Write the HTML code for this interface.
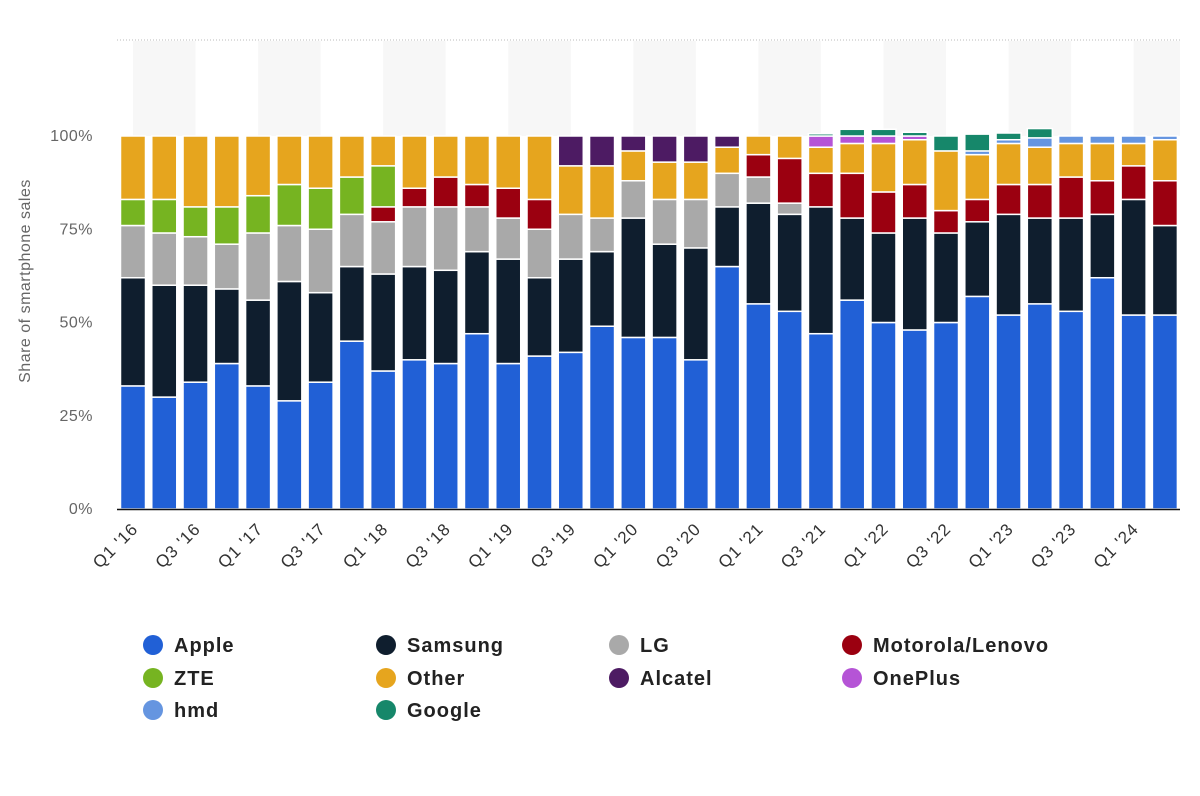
<!DOCTYPE html>
<html><head><meta charset="utf-8"><style>
body{margin:0;background:#fff;width:1200px;height:791px;overflow:hidden;font-family:"Liberation Sans",sans-serif}
</style></head><body>
<svg id="chart" width="1200" height="791" xmlns="http://www.w3.org/2000/svg">
<g id="stripes"></g>
<line x1="117" y1="40" x2="1180" y2="40" stroke="#bbb" stroke-dasharray="1,2"/>
<g id="bars"></g>
<line x1="117" y1="509.5" x2="1180" y2="509.5" stroke="#111" stroke-width="1.5"/>
<g id="yticks" font-size="16" letter-spacing="0.5" fill="#666" text-anchor="end"></g>
<text transform="translate(30,281) rotate(-90)" text-anchor="middle" font-size="16" letter-spacing="0.5" fill="#666">Share of smartphone sales</text>
<g id="xticks" font-size="17" letter-spacing="1" fill="#333" text-anchor="end"></g>
<g id="legend" font-size="20" letter-spacing="1" font-weight="bold" fill="#222"></g>
</svg>
<script>
const quarters=["Q1 '16","Q2 '16","Q3 '16","Q4 '16","Q1 '17","Q2 '17","Q3 '17","Q4 '17","Q1 '18","Q2 '18","Q3 '18","Q4 '18","Q1 '19","Q2 '19","Q3 '19","Q4 '19","Q1 '20","Q2 '20","Q3 '20","Q4 '20","Q1 '21","Q2 '21","Q3 '21","Q4 '21","Q1 '22","Q2 '22","Q3 '22","Q4 '22","Q1 '23","Q2 '23","Q3 '23","Q4 '23","Q1 '24","Q2 '24"];
const seriesNames=["Apple","Samsung","LG","Motorola/Lenovo","ZTE","Other","Alcatel","OnePlus","hmd","Google"];
const seriesColors=["#2160d6","#0f1e2e","#a9a9a9","#9b0010","#76b421","#e6a51e","#4d1b63","#b554d6","#6595e0","#16876a"];
const apple=[33,30,34,39,33,29,34,45,37,40,39,47,39,41,42,49,46,46,40,65,55,53,47,56,50,48,50,57,52,55,53,62,52,52];
const samsung=[29,30,26,20,23,32,24,20,26,25,25,22,28,21,25,20,32,25,30,16,27,26,34,22,24,30,24,20,27,23,25,17,31,24];
const lg=[14,14,13,12,18,15,17,14,14,16,17,12,11,13,12,9,10,12,13,9,7,3,0,0,0,0,0,0,0,0,0,0,0,0];
const motorola=[0,0,0,0,0,0,0,0,4,5,8,6,8,8,0,0,0,0,0,0,6,12,9,12,11,9,6,6,8,9,11,9,9,12];
const zte=[7,9,8,10,10,11,11,10,11,0,0,0,0,0,0,0,0,0,0,0,0,0,0,0,0,0,0,0,0,0,0,0,0,0];
const other=[17,17,19,19,16,13,14,11,8,14,11,13,14,17,13,14,8,10,10,7,5,6,7,8,13,12,16,12,11,10,9,10,6,11];
const alcatel=[0,0,0,0,0,0,0,0,0,0,0,0,0,0,8,8,4,7,7,3,0,0,0,0,0,0,0,0,0,0,0,0,0,0];
const oneplus=[0,0,0,0,0,0,0,0,0,0,0,0,0,0,0,0,0,0,0,0,0,0,3,2,2,1,0,0,0,0,0,0,0,0];
const hmd=[0,0,0,0,0,0,0,0,0,0,0,0,0,0,0,0,0,0,0,0,0,0,0,0,0,0,0,1,1,2.5,2,2,2,1];
const google=[0,0,0,0,0,0,0,0,0,0,0,0,0,0,0,0,0,0,0,0,0,0,0.6,1.8,1.8,1,4,4.5,1.8,2.5,0,0,0,0];
const yTicks=[0,25,50,75,100];
const series=[apple,samsung,lg,motorola,zte,other,alcatel,oneplus,hmd,google];
const NS="http://www.w3.org/2000/svg";
const x0=117,step=31.27,bw=25;
function xCenter(i){return x0+16+i*step;}
function yScale(v){return 509-v*3.73;}
function mk(tag,attrs,parent){const e=document.createElementNS(NS,tag);for(const k in attrs)e.setAttribute(k,attrs[k]);parent.appendChild(e);return e;}
const stripes=document.getElementById('stripes');
for(let i=0;i<quarters.length;i+=4){const r=mk('rect',{x:xCenter(i),y:41,width:Math.min(step*2,1180-xCenter(i)),height:95,fill:'#f7f7f7'},stripes);

}
const bars=document.getElementById('bars');
quarters.forEach((q,i)=>{let cum=0;series.forEach((s,k)=>{const v=s[i];if(v>0){const y1=yScale(cum+v),y2=yScale(cum);
const r=mk('rect',{x:xCenter(i)-bw/2,y:y1,width:bw,height:y2-y1,fill:seriesColors[k],stroke:'#fff','stroke-width':1.5},bars);

}cum+=v;});});
const yt=document.getElementById('yticks');
yTicks.forEach(t=>{const e=mk('text',{x:93,y:yScale(t)+5},yt);e.textContent=t+'%';

});
const xt=document.getElementById('xticks');
quarters.forEach((q,i)=>{if(i%2)return;const cx=xCenter(i)+6,cy=530;
const e=mk('text',{transform:`translate(${cx},${cy}) rotate(-45)`},xt);e.textContent=q;

});
const lg_=document.getElementById('legend');
const legOrder=[0,1,2,3,4,5,6,7,8,9];
const colX=[153,386,619,852],rowY=[645,678,710];
legOrder.forEach((k,j)=>{const cx=colX[j%4],cy=rowY[Math.floor(j/4)];
const g=mk('g',{},lg_);


mk('circle',{cx:cx,cy:cy,r:10,fill:seriesColors[k]},g);
const t=mk('text',{x:cx+21,y:cy+7},g);t.textContent=seriesNames[k];});
</script>
</body></html>
